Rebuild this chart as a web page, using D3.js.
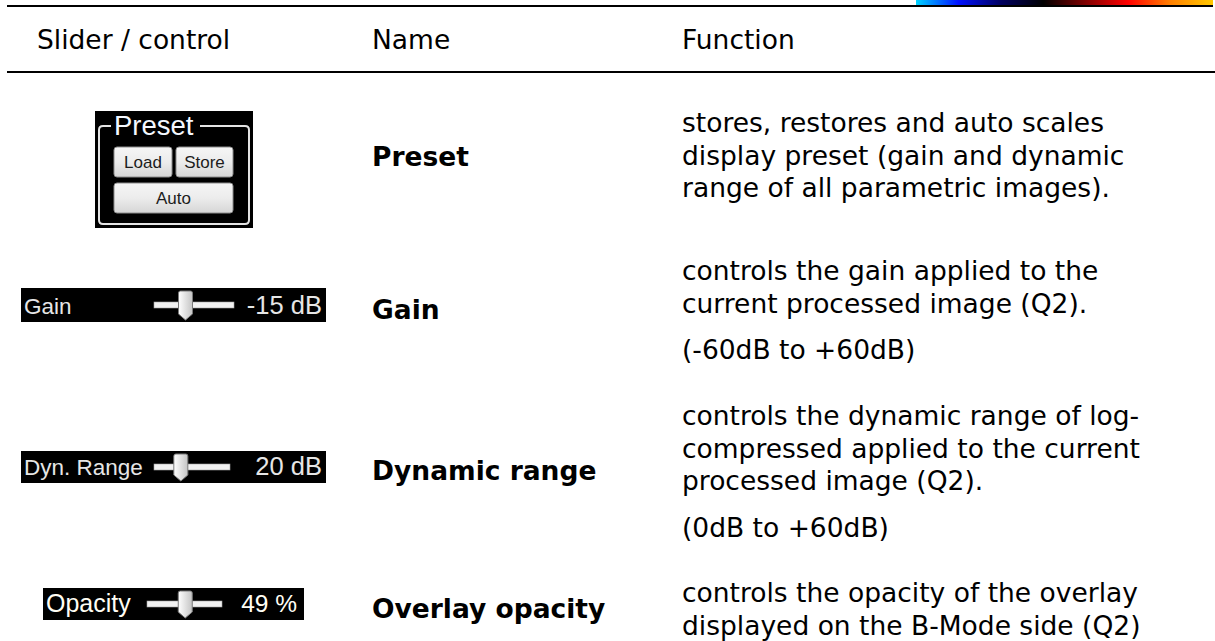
<!DOCTYPE html>
<html>
<head>
<meta charset="utf-8">
<script src="https://cdn.jsdelivr.net/npm/d3@7"></script>
<style>
  html, body { margin: 0; padding: 0; background: #ffffff; }
  svg { display: block; }
</style>
</head>
<body>
<svg id="chart" width="1215" height="641"></svg>
<script>
// ---------------- DATA ----------------
const headers = ["Slider / control", "Name", "Function"];
const controlNames = ["Preset", "Gain", "Dynamic range", "Overlay opacity"];
const presetTitle = "Preset";
const presetButtons = ["Load", "Store", "Auto"];
const sliderLabels = ["Gain", "Dyn. Range", "Opacity"];
const sliderValues = [-15, 20, 49];
const sliderUnits = ["dB", "dB", "%"];
const sliderMin = [-60, 0, 0];
const sliderMax = [60, 60, 100];
const functionText = [
  ["stores, restores and auto scales", "display preset (gain and dynamic", "range of all parametric images)."],
  ["controls the gain applied to the", "current processed image (Q2)."],
  ["controls the dynamic range of log-", "compressed applied to the current", "processed image (Q2)."],
  ["controls the opacity of the overlay", "displayed on the B-Mode side (Q2)"]
];
const rangeNotes = [null, "(-60dB to +60dB)", "(0dB to +60dB)", null];
const colorbarColors = ["#00d4ff", "#0010ff", "#000060", "#000000", "#800000", "#ff0000", "#ff8000", "#ffc800"];

// ---------------- LAYOUT ----------------
const docFont = "'DejaVu Sans', Verdana, sans-serif";
const uiFont = "'Liberation Sans', Arial, sans-serif";
const fs = 26.5;
const colX = [37, 372, 682];
const headerBaseline = 49;
const nameBaseline = [166, 319, 480, 618];
const funcStart = [132, 280, 425, 602];
const noteBaseline = [null, 359, 537, null];
const lineH = 32.5;

const svg = d3.select("#chart");
const defs = svg.append("defs");

const cb = defs.append("linearGradient").attr("id", "cbar").attr("x1", 0).attr("x2", 1).attr("y1", 0).attr("y2", 0);
const cbScale = d3.scaleLinear().domain([0, colorbarColors.length - 1]).range([0, 100]);
cb.selectAll("stop").data(colorbarColors).join("stop")
  .attr("offset", (d, i) => cbScale(i) + "%").attr("stop-color", d => d);

const btnGrad = defs.append("linearGradient").attr("id", "btn").attr("x1", 0).attr("x2", 0).attr("y1", 0).attr("y2", 1);
btnGrad.append("stop").attr("offset", "0%").attr("stop-color", "#f6f6f6");
btnGrad.append("stop").attr("offset", "50%").attr("stop-color", "#ececec");
btnGrad.append("stop").attr("offset", "100%").attr("stop-color", "#d6d6d6");

const thumbGrad = defs.append("linearGradient").attr("id", "thumb").attr("x1", 0).attr("x2", 1).attr("y1", 0).attr("y2", 0);
thumbGrad.append("stop").attr("offset", "0%").attr("stop-color", "#ffffff");
thumbGrad.append("stop").attr("offset", "100%").attr("stop-color", "#c4c4c4");

// ---------- rules & colour bar ----------
svg.append("rect").attr("x", 916).attr("y", 0).attr("width", 297).attr("height", 5.5).attr("fill", "url(#cbar)");
svg.append("line").attr("x1", 7).attr("x2", 1213).attr("y1", 6).attr("y2", 6).attr("stroke", "#000").attr("stroke-width", 2);
svg.append("line").attr("x1", 7).attr("x2", 1215).attr("y1", 72).attr("y2", 72).attr("stroke", "#000").attr("stroke-width", 2);

// ---------- header ----------
svg.selectAll("text.hdr").data(headers).join("text").attr("class", "hdr")
  .attr("x", (d, i) => colX[i]).attr("y", headerBaseline)
  .attr("font-family", docFont).attr("font-size", fs).attr("fill", "#000")
  .text(d => d);

// ---------- name column ----------
svg.selectAll("text.name").data(controlNames).join("text").attr("class", "name")
  .attr("x", colX[1]).attr("y", (d, i) => nameBaseline[i])
  .attr("font-family", docFont).attr("font-size", fs).attr("font-weight", "bold").attr("fill", "#000")
  .text(d => d);

// ---------- function column ----------
const fg = svg.append("g");
functionText.forEach((lines, r) => {
  fg.append("g").selectAll("text").data(lines).join("text")
    .attr("x", colX[2]).attr("y", (d, i) => funcStart[r] + i * lineH)
    .attr("font-family", docFont).attr("font-size", fs).attr("fill", "#000")
    .text(d => d);
  if (rangeNotes[r]) {
    fg.append("text").attr("x", colX[2]).attr("y", noteBaseline[r])
      .attr("font-family", docFont).attr("font-size", fs).attr("fill", "#000")
      .text(rangeNotes[r]);
  }
});

// ---------- preset widget ----------
const pg = svg.append("g");
pg.append("rect").attr("x", 95).attr("y", 111).attr("width", 158).attr("height", 117).attr("fill", "#000");
pg.append("path")
  .attr("d", "M111,126 H103 Q99,126 99,130 V220 Q99,224 103,224 H245 Q249,224 249,220 V130 Q249,126 245,126 H200")
  .attr("fill", "none").attr("stroke", "#e4e4e4").attr("stroke-width", 2);
pg.append("text").attr("x", 114).attr("y", 135).attr("font-family", uiFont).attr("font-size", 27.5)
  .attr("fill", "#f4f8ff").text(presetTitle);
const btnRects = [
  {x: 114, y: 147, w: 58, h: 30},
  {x: 176, y: 147, w: 57, h: 30},
  {x: 114, y: 183, w: 119, h: 30}
];
const bg = pg.selectAll("g.btn").data(presetButtons).join("g").attr("class", "btn");
bg.append("rect")
  .attr("x", (d, i) => btnRects[i].x).attr("y", (d, i) => btnRects[i].y)
  .attr("width", (d, i) => btnRects[i].w).attr("height", (d, i) => btnRects[i].h)
  .attr("rx", 3).attr("fill", "url(#btn)").attr("stroke", "#8c8c8c").attr("stroke-width", 1);
bg.append("text")
  .attr("x", (d, i) => btnRects[i].x + btnRects[i].w / 2).attr("y", (d, i) => btnRects[i].y + 21)
  .attr("text-anchor", "middle").attr("font-family", uiFont).attr("font-size", 17).attr("fill", "#1c1c1c")
  .text(d => d);

// ---------- slider widgets ----------
const sliderBoxes = [
  {x: 21, y: 288, w: 305, h: 34, labelSize: 22.5, valueSize: 25.5, t0: 154, t1: 234, labelColor: "#e6e6e6", pad: 4},
  {x: 21, y: 451, w: 305, h: 32, labelSize: 22.5, valueSize: 25.5, t0: 154, t1: 230, labelColor: "#e6e6e6", pad: 4},
  {x: 43, y: 588, w: 261, h: 32, labelSize: 25, valueSize: 24.5, t0: 147, t1: 222, labelColor: "#fffdf4", pad: 7}
];
sliderLabels.forEach((lab, i) => {
  const b = sliderBoxes[i];
  const g = svg.append("g");
  g.append("rect").attr("x", b.x).attr("y", b.y).attr("width", b.w).attr("height", b.h).attr("fill", "#000");
  g.append("text").attr("x", b.x + 3).attr("y", b.y + b.h - 8)
    .attr("font-family", uiFont).attr("font-size", b.labelSize).attr("fill", b.labelColor).text(lab);
  const xs = d3.scaleLinear().domain([sliderMin[i], sliderMax[i]]).range([b.t0, b.t1]);
  const cy = b.y + b.h / 2;
  g.append("rect").attr("x", b.t0).attr("y", cy - 3).attr("width", b.t1 - b.t0).attr("height", 6)
    .attr("fill", "#f2f2f2").attr("stroke", "#a0a0a0").attr("stroke-width", 0.6);
  const tx = xs(sliderValues[i]) + 1.5;
  const top = b.y + 3, bot = b.y + b.h - 2;
  const hw = 7;
  const p = d3.path();
  p.moveTo(tx - hw, top + 2);
  p.quadraticCurveTo(tx - hw, top, tx - hw + 2, top);
  p.lineTo(tx + hw - 2, top);
  p.quadraticCurveTo(tx + hw, top, tx + hw, top + 2);
  p.lineTo(tx + hw, bot - 6);
  p.lineTo(tx, bot);
  p.lineTo(tx - hw, bot - 6);
  p.closePath();
  g.append("path").attr("d", p.toString()).attr("fill", "url(#thumb)").attr("stroke", "#7a7a7a").attr("stroke-width", 1);
  g.append("text").attr("x", b.x + b.w - b.pad).attr("y", b.y + b.h - 8).attr("text-anchor", "end")
    .attr("font-family", uiFont).attr("font-size", b.valueSize).attr("fill", b.labelColor)
    .text(sliderValues[i] + " " + sliderUnits[i]);
});
</script>
</body>
</html>
